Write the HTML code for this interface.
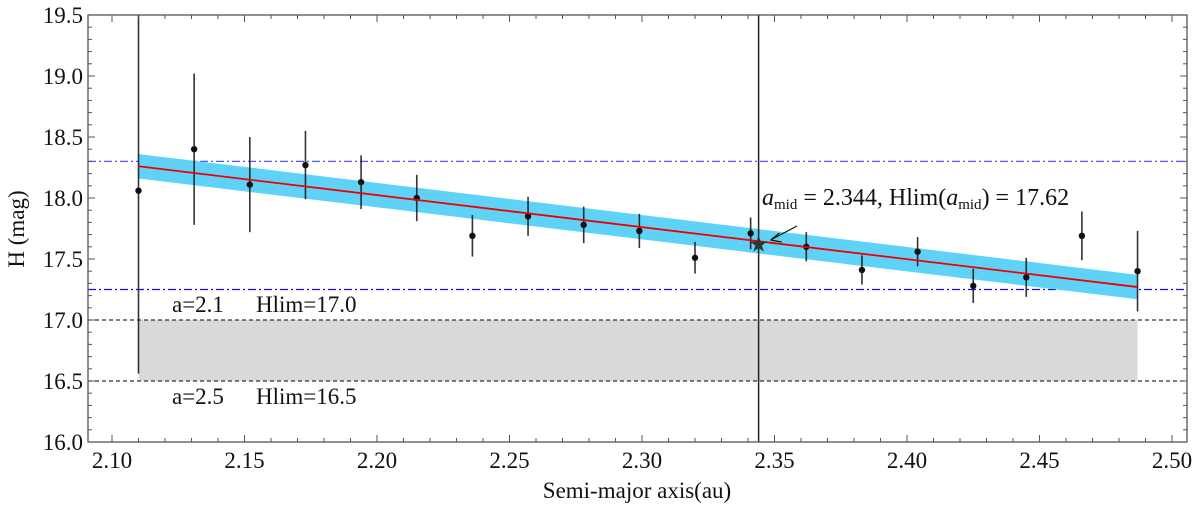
<!DOCTYPE html>
<html><head><meta charset="utf-8"><style>
body{margin:0;background:#fff;}
svg text, svg tspan{font-family:"Liberation Serif","DejaVu Serif","Noto Serif CJK SC",serif !important;}
</style></head><body>
<svg id="chart" width="1200" height="507" viewBox="0 0 1200 507" xmlns="http://www.w3.org/2000/svg"></svg>
<script>
const aVals=[2.110,2.131,2.152,2.173,2.194,2.215,2.236,2.257,2.278,2.299,2.320,2.341,2.362,2.383,2.404,2.425,2.445,2.466,2.487];
const hVals=[18.06,18.40,18.11,18.27,18.13,18.00,17.69,17.85,17.78,17.73,17.51,17.71,17.60,17.41,17.56,17.28,17.35,17.69,17.40];
const hErr=[1.50,0.62,0.39,0.28,0.22,0.19,0.17,0.16,0.15,0.14,0.13,0.13,0.12,0.12,0.12,0.14,0.16,0.20,0.33];
const fitA=[2.110,2.487];
const fitH=[18.26,17.27];
const bandHalf=0.10;
const blueLines=[18.30,17.25];
const blackLines=[17.0,16.5];
const aMid=2.344, hMid=17.62;
const xTicks=[2.10,2.15,2.20,2.25,2.30,2.35,2.40,2.45,2.50];
const yTicks=[16.0,16.5,17.0,17.5,18.0,18.5,19.0,19.5];

const L=88,R=1187,T=15,B=442;
const X=a=>112+(a-2.1)*2650;
const Y=h=>B-(h-16)*122;
const svg=document.getElementById('chart');
const NS='http://www.w3.org/2000/svg';
const FFS="font-family:'Liberation Serif','DejaVu Serif','Noto Serif CJK SC',serif";
function mk(tag,at,parent){const e=document.createElementNS(NS,tag);for(const k in at)e.setAttribute(k,at[k]);if(tag==='text'){e.setAttribute('style',FFS);e.setAttribute('fill','#111');}(parent||svg).appendChild(e);return e;}
const defs=mk('defs',{});const cp=mk('clipPath',{id:'clip'},defs);mk('rect',{x:L,y:T,width:R-L,height:B-T},cp);
const g=mk('g',{'clip-path':'url(#clip)'});

let e=mk('rect',{x:X(fitA[0]),y:Y(17.0),width:X(fitA[1])-X(fitA[0]),height:Y(16.5)-Y(17.0),fill:'#d9d9d9'},g);


blackLines.forEach(h=>{const l=mk('line',{x1:L,x2:R,y1:Y(h),y2:Y(h),stroke:'#333','stroke-width':1.3,'stroke-dasharray':'4,3'},g);

});
blueLines.forEach((h,i)=>{const l=mk('line',{x1:L,x2:R,y1:Y(h),y2:Y(h),stroke:i?'#1010dd':'#5555ff','stroke-width':1.2,'stroke-dasharray':'8,3,2,3'},g);

});
const bp=`M${X(fitA[0])},${Y(fitH[0]+bandHalf)} L${X(fitA[1])},${Y(fitH[1]+bandHalf)} L${X(fitA[1])},${Y(fitH[1]-bandHalf)} L${X(fitA[0])},${Y(fitH[0]-bandHalf)} Z`;
e=mk('path',{d:bp,fill:'#5fd3f7'},g);


e=mk('line',{x1:X(aMid),x2:X(aMid),y1:T,y2:B,stroke:'#222','stroke-width':1.5},g);


aVals.forEach((a,i)=>{
 const l=mk('line',{x1:X(a),x2:X(a),y1:Y(hVals[i]+hErr[i]),y2:Y(hVals[i]-hErr[i]),stroke:'#111','stroke-width':1.6,'stroke-opacity':0.85},g);
 
 
 const c=mk('circle',{cx:X(a),cy:Y(hVals[i]),r:3.2,fill:'#111'},g);
 
 
});
e=mk('line',{x1:X(fitA[0]),y1:Y(fitH[0]),x2:X(fitA[1]),y2:Y(fitH[1]),stroke:'#e00','stroke-width':1.8},g);


(function(){const cx=X(aMid),cy=Y(hMid);let p='';for(let k=0;k<10;k++){const r=k%2?3.5:9,an=-Math.PI/2+k*Math.PI/5;p+=(k?'L':'M')+(cx+r*Math.cos(an))+','+(cy+r*Math.sin(an));}
const s=mk('path',{d:p+'Z',fill:'#333'},g);

})();
e=mk('path',{d:`M797,226 L${X(aMid)+12},240 M${X(aMid)+12},240 l9,-7 M${X(aMid)+12},240 l11,2`,stroke:'#111','stroke-width':1.2,fill:'none'});


e=mk('text',{x:762,y:205,'font-size':24});
e.innerHTML='<tspan font-style="italic">a</tspan><tspan font-size="15" dy="4">mid</tspan><tspan dy="-4"> = 2.344, Hlim(</tspan><tspan font-style="italic">a</tspan><tspan font-size="15" dy="4">mid</tspan><tspan dy="-4">) = 17.62</tspan>';


[['a=2.1','Hlim=17.0',312,'label-hlim-17'],['a=2.5','Hlim=16.5',404,'label-hlim-16-5']].forEach(d=>{
 const t=mk('text',{x:172,y:d[2],'font-size':23});
 t.innerHTML=`<tspan>${d[0]}</tspan><tspan x="256">${d[1]}</tspan>`;
 
 
});
e=mk('rect',{x:L,y:T,width:R-L,height:B-T,fill:'none',stroke:'#555','stroke-width':1.3});


for(let k=0;k<=42;k++){const a=2.09+k*0.01;const x=X(a);if(x<L||x>R)continue;const major=Math.abs(Math.round(a*100)%5)==0;const len=major?7:4;
 mk('line',{x1:x,x2:x,y1:B,y2:B-len,stroke:'#555'});mk('line',{x1:x,x2:x,y1:T,y2:T+len,stroke:'#555'});}
for(let k=0;k<=35;k++){const h=16+k*0.1;const y=Y(h);const major=k%5==0;const len=major?7:4;
 mk('line',{x1:L,x2:L+len,y1:y,y2:y,stroke:'#555'});mk('line',{x1:R,x2:R-len,y1:y,y2:y,stroke:'#555'});}
xTicks.forEach(a=>{const t=mk('text',{x:X(a),y:468,'font-size':23,'text-anchor':'middle'});t.textContent=a.toFixed(2);
 
 });
yTicks.forEach(h=>{const t=mk('text',{x:83,y:Y(h)+8,'font-size':23,'text-anchor':'end'});t.textContent=h.toFixed(1);
 
 });
e=mk('text',{x:637,y:498,'font-size':23,'text-anchor':'middle'});e.textContent='Semi-major axis(au)';


e=mk('text',{x:0,y:0,'font-size':23,'text-anchor':'middle',transform:'translate(24,229) rotate(-90)'});e.textContent='H (mag)';


</script>
</body></html>
